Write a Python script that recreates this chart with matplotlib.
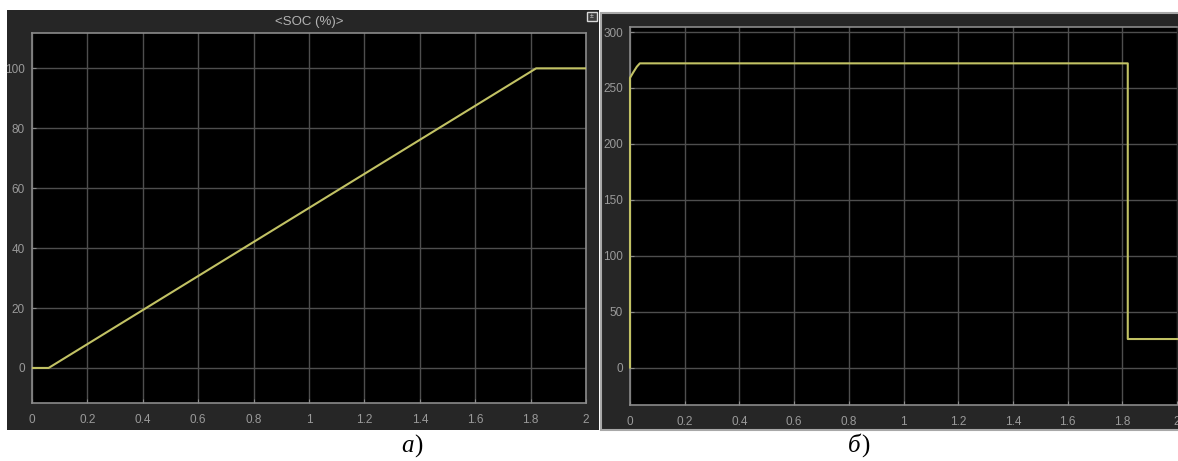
import numpy as np
import matplotlib.pyplot as plt
from matplotlib.patches import Rectangle

# SOC of the battery, %
soc_t = [0, 0.06, 1.82, 2.0]
soc_v = [0, 0, 100, 100]

# second signal (right panel)
sig_t = [0, 0, 0.012, 0.025, 0.036, 1.82, 1.82, 2.0]
sig_v = [0, 259, 264, 269, 272, 272, 25.5, 25.5]

x_ticks = [0, 0.2, 0.4, 0.6, 0.8, 1, 1.2, 1.4, 1.6, 1.8, 2]
x_labels = ['0', '0.2', '0.4', '0.6', '0.8', '1', '1.2', '1.4', '1.6', '1.8', '2']
soc_yticks = [0, 20, 40, 60, 80, 100]
sig_yticks = [0, 50, 100, 150, 200, 250, 300]

W, H = 1178, 461
bg = '#262626'
line_c = '#c2c264'
grid_c = '#4e4e4e'
spine_c = '#8a8a8a'
text_c = '#9a9a9a'

plt.rcParams['font.family'] = ['Liberation Sans', 'DejaVu Sans']

fig = plt.figure(figsize=(W / 100, H / 100), dpi=100)
fig.patch.set_facecolor('white')


def box(x0, y0, x1, y1):
    # pixel box (top-left origin) -> figure fraction rect
    return [x0 / W, 1 - y1 / H, (x1 - x0) / W, (y1 - y0) / H]


# dark scope backgrounds (behind the axes)
r = box(7, 10, 599, 430)
fig.patches.append(Rectangle((r[0], r[1]), r[2], r[3], transform=fig.transFigure,
                             facecolor=bg, edgecolor='none', zorder=-5))
r = box(601, 13, 1180, 430)
fig.patches.append(Rectangle((r[0], r[1]), r[2], r[3], transform=fig.transFigure,
                             facecolor=bg, edgecolor='#a8a8a8', linewidth=1.5, zorder=-5))
# small undock icon in the left scope
r = box(587, 12, 597, 21)
fig.patches.append(Rectangle((r[0], r[1]), r[2], r[3], transform=fig.transFigure,
                             facecolor='#3c3c3c', edgecolor='#d8d8d8', linewidth=1, zorder=1))
fig.text(592 / W, 1 - 16.5 / H, '±', color='#d8d8d8', fontsize=5, ha='center', va='center')


def style(ax, xlim, ylim, yticks):
    ax.set_facecolor('black')
    ax.set_xlim(*xlim)
    ax.set_ylim(*ylim)
    ax.set_xticks(x_ticks)
    ax.set_xticklabels(x_labels)
    ax.set_yticks(yticks)
    ax.grid(True, color=grid_c, linewidth=1)
    ax.set_axisbelow(True)
    for s in ax.spines.values():
        s.set_color(spine_c)
        s.set_linewidth(1.2)
    ax.tick_params(axis='both', direction='in', length=3, color=spine_c,
                   labelcolor=text_c, labelsize=8.5)
    ax.tick_params(axis='x', pad=8)
    ax.tick_params(axis='y', pad=5)


ax1 = fig.add_axes(box(32, 33, 586, 403))
style(ax1, (0, 2), (-11.7, 111.8), soc_yticks)
ax1.plot(soc_t, soc_v, color=line_c, linewidth=1.5, zorder=3)
ax1.set_title('<SOC (%)>', color='#b4b4b4', fontsize=9.5, pad=6)

ax2 = fig.add_axes(box(630, 27, 1177, 405))
style(ax2, (0, 2), (-33.5, 304.5), sig_yticks)
ax2.spines['right'].set_visible(False)
ax2.plot(sig_t, sig_v, color=line_c, linewidth=1.5, zorder=3, clip_on=False)

# panel captions
cap = dict(family=['Liberation Serif', 'DejaVu Serif'], fontsize=18, color='black', va='center')
fig.text(414 / W, 1 - 446 / H, 'а', style='italic', ha='right', **cap)
fig.text(414 / W, 1 - 446 / H, ')', ha='left', **cap)
fig.text(861 / W, 1 - 446 / H, 'б', style='italic', ha='right', **cap)
fig.text(861 / W, 1 - 446 / H, ')', ha='left', **cap)

fig.savefig('out.png', dpi=100, facecolor=fig.get_facecolor())
